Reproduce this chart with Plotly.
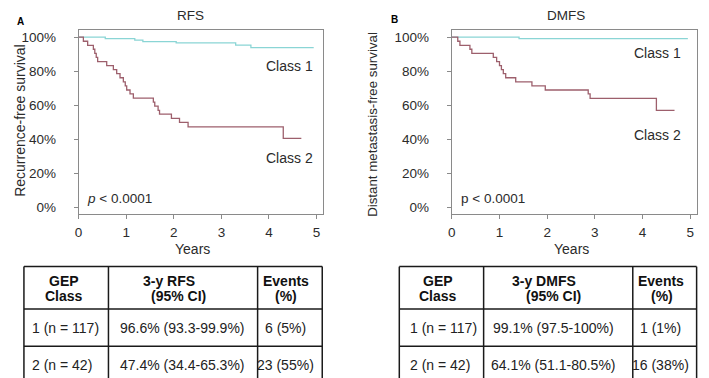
import plotly.graph_objects as go

# ---------------- data ----------------
years_ticks = [0, 1, 2, 3, 4, 5]
pct_ticks = [0, 20, 40, 60, 80, 100]
pct_tick_labels = ["0%", "20%", "40%", "60%", "80%", "100%"]

# Panel A: RFS
rfs_c1_t = [0, 0.56, 1.18, 1.35, 2.05, 3.30, 3.62, 4.94]
rfs_c1_s = [100, 99.1, 98.3, 97.4, 96.6, 95.3, 93.9, 93.9]
rfs_c2_t = [0, 0.10, 0.19, 0.31, 0.34, 0.37, 0.40, 0.59, 0.73, 0.80, 0.87, 0.94,
            0.98, 1.01, 1.08, 1.15, 1.57, 1.60, 1.67, 1.70, 1.95, 2.12, 2.30, 4.30, 4.68]
rfs_c2_s = [100, 97.6, 95.2, 92.9, 90.5, 88.1, 85.7, 83.3, 81.0, 78.6, 76.2, 73.8,
            71.4, 69.0, 66.7, 64.3, 61.9, 59.5, 57.1, 54.8, 52.4, 50.0, 47.4, 40.6, 40.6]

# Panel B: DMFS
dmfs_c1_t = [0, 1.41, 4.95]
dmfs_c1_s = [100, 99.1, 99.1]
dmfs_c2_t = [0, 0.125, 0.17, 0.38, 0.42, 0.87, 0.94, 1.00, 1.04, 1.08, 1.13, 1.34,
             1.68, 1.96, 2.86, 2.90, 4.29, 4.67]
dmfs_c2_s = [100, 97.6, 95.2, 92.9, 90.5, 88.1, 85.7, 83.3, 81.0, 78.6, 76.2, 73.8,
             71.4, 69.0, 66.7, 64.1, 57.0, 57.0]

panel_titles = ["RFS", "DMFS"]
panel_letters = ["A", "B"]
y_titles = ["Recurrence-free survival", "Distant metastasis-free survival"]
class_labels = ["Class 1", "Class 2"]
p_texts = ["<i>p</i> < 0.0001", "p < 0.0001"]

table_a_header = [["GEP", "Class"], ["3-y RFS", "(95% CI)"], ["Events", "(%)"]]
table_a_rows = [["1 (n = 117)", "96.6% (93.3-99.9%)", "6 (5%)"],
                ["2 (n = 42)", "47.4% (34.4-65.3%)", "23 (55%)"]]
table_b_header = [["GEP", "Class"], ["3-y DMFS", "(95% CI)"], ["Events", "(%)"]]
table_b_rows = [["1 (n = 117)", "99.1% (97.5-100%)", "1 (1%)"],
                ["2 (n = 42)", "64.1% (51.1-80.5%)", "16 (38%)"]]

# ---------------- layout helpers (pixels) ----------------
W, H = 709, 378
def px(x):
    return x / W
def py(y):
    return 1 - y / H

FONT = "Arial, Liberation Sans, sans-serif"
TXT = "#2b2b2b"
C1 = "#8ad5d5"
C2 = "#9d5f6c"
BOX = "#8a8a8a"

fig = go.Figure()

panels = [
    dict(c1=(rfs_c1_t, rfs_c1_s), c2=(rfs_c2_t, rfs_c2_s), xa="x", ya="y"),
    dict(c1=(dmfs_c1_t, dmfs_c1_s), c2=(dmfs_c2_t, dmfs_c2_s), xa="x2", ya="y2"),
]

for p in panels:
    for (t, s), col in ((p["c1"], C1), (p["c2"], C2)):
        fig.add_trace(go.Scatter(x=t, y=s, mode="lines", line=dict(color=col, width=1.3, shape="hv"),
                                 xaxis=p["xa"], yaxis=p["ya"], showlegend=False, hoverinfo="skip"))

ytop, ybot = 22.3, 206.7
axis_common = dict(showline=True, mirror=True, linecolor=BOX, linewidth=1, ticks="outside",
                   ticklen=4, tickcolor=BOX, showgrid=False, zeroline=False,
                   tickfont=dict(family=FONT, size=13.5, color=TXT))
xcommon = dict(tickvals=years_ticks, ticktext=[str(v) for v in years_ticks], tickmode="array",
               ticklabelstandoff=2, **axis_common)
ycommon = dict(tickvals=pct_ticks, ticktext=pct_tick_labels, tickmode="array",
               range=[-3.5, 104.1], domain=[py(ybot), py(ytop)], ticklabelstandoff=15, **axis_common)
fig.update_layout(
    xaxis=dict(domain=[px(67), px(313)], range=[0, 5.14], anchor="y", **xcommon),
    yaxis=dict(anchor="x", **ycommon),
    xaxis2=dict(domain=[px(442.3), px(689.3)], range=[0, 5.15], anchor="y2", **xcommon),
    yaxis2=dict(anchor="x2", **ycommon),
    width=W, height=H, margin=dict(l=0, r=0, t=0, b=0),
    paper_bgcolor="white", plot_bgcolor="white",
    font=dict(family=FONT, color=TXT),
)

ann = []
def text(x, y, s, size=13, bold=False, angle=0, xanchor="center", color=TXT):
    ann.append(dict(x=px(x), y=py(y), xref="paper", yref="paper", text=("<b>%s</b>" % s) if bold else s,
                    showarrow=False, xanchor=xanchor, yanchor="middle", textangle=angle,
                    font=dict(family=FONT, size=size, color=color)))

# panel decorations
text(179.5, 8, panel_titles[0], size=13.5)
text(556.7, 8, panel_titles[1], size=13.5)
text(8.5, 13.5, panel_letters[0], size=10, bold=True, color="#000")
text(385, 12, panel_letters[1], size=10, bold=True, color="#000")
text(8.5, 113, y_titles[0], size=14, angle=-90)
text(362.5, 117, y_titles[1], size=13.3, angle=-90)
text(181.5, 242, "Years", size=14)
text(562.5, 242, "Years", size=14)
text(279, 58, class_labels[0], size=14)
text(279, 151, class_labels[1], size=14)
text(649.5, 45, class_labels[0], size=14)
text(649.5, 127.5, class_labels[1], size=14)
text(73, 192, p_texts[0], size=13.5, xanchor="left")
text(450, 192, p_texts[1], size=13.5, xanchor="left")

# tables
shapes = []
def hline(x0, x1, y):
    shapes.append(dict(type="line", xref="paper", yref="paper", x0=px(x0), x1=px(x1), y0=py(y), y1=py(y),
                       line=dict(color="#1a1a1a", width=1.5)))
def vline(x, y0, y1):
    shapes.append(dict(type="line", xref="paper", yref="paper", x0=px(x), x1=px(x), y0=py(y0), y1=py(y1),
                       line=dict(color="#1a1a1a", width=1.5)))

tables = [
    dict(cols=[12, 97, 247, 312], header=table_a_header, rows=table_a_rows,
         hx=[[52.5, 52.5], [158, 167], [275.5, 275.5]],
         rx=[(18, "left"), (107, "left"), (275.5, "center")]),
    dict(cols=[389.5, 474.3, 624.3, 688.5], header=table_b_header, rows=table_b_rows,
         hx=[[428, 428], [534.6, 545], [652.5, 654]],
         rx=[(398, "left"), (545, "center"), (652.5, "center")]),
]
rows_y = [260, 302.7, 340, 377]
for tb in tables:
    c = tb["cols"]
    for y in rows_y:
        hline(c[0], c[3], y)
    for x in c:
        vline(x, rows_y[0], rows_y[3])
    for ci, lines in enumerate(tb["header"]):
        for li, s in enumerate(lines):
            text(tb["hx"][ci][li], [274.5, 289.5][li], s, size=14, bold=True, color="#111")
    for ri, row in enumerate(tb["rows"]):
        for ci, s in enumerate(row):
            x, anc = tb["rx"][ci]
            text(x, [321.7, 359][ri], s, size=14, xanchor=anc, color="#222")

fig.update_layout(annotations=ann, shapes=shapes)
fig.write_html("out.html")
